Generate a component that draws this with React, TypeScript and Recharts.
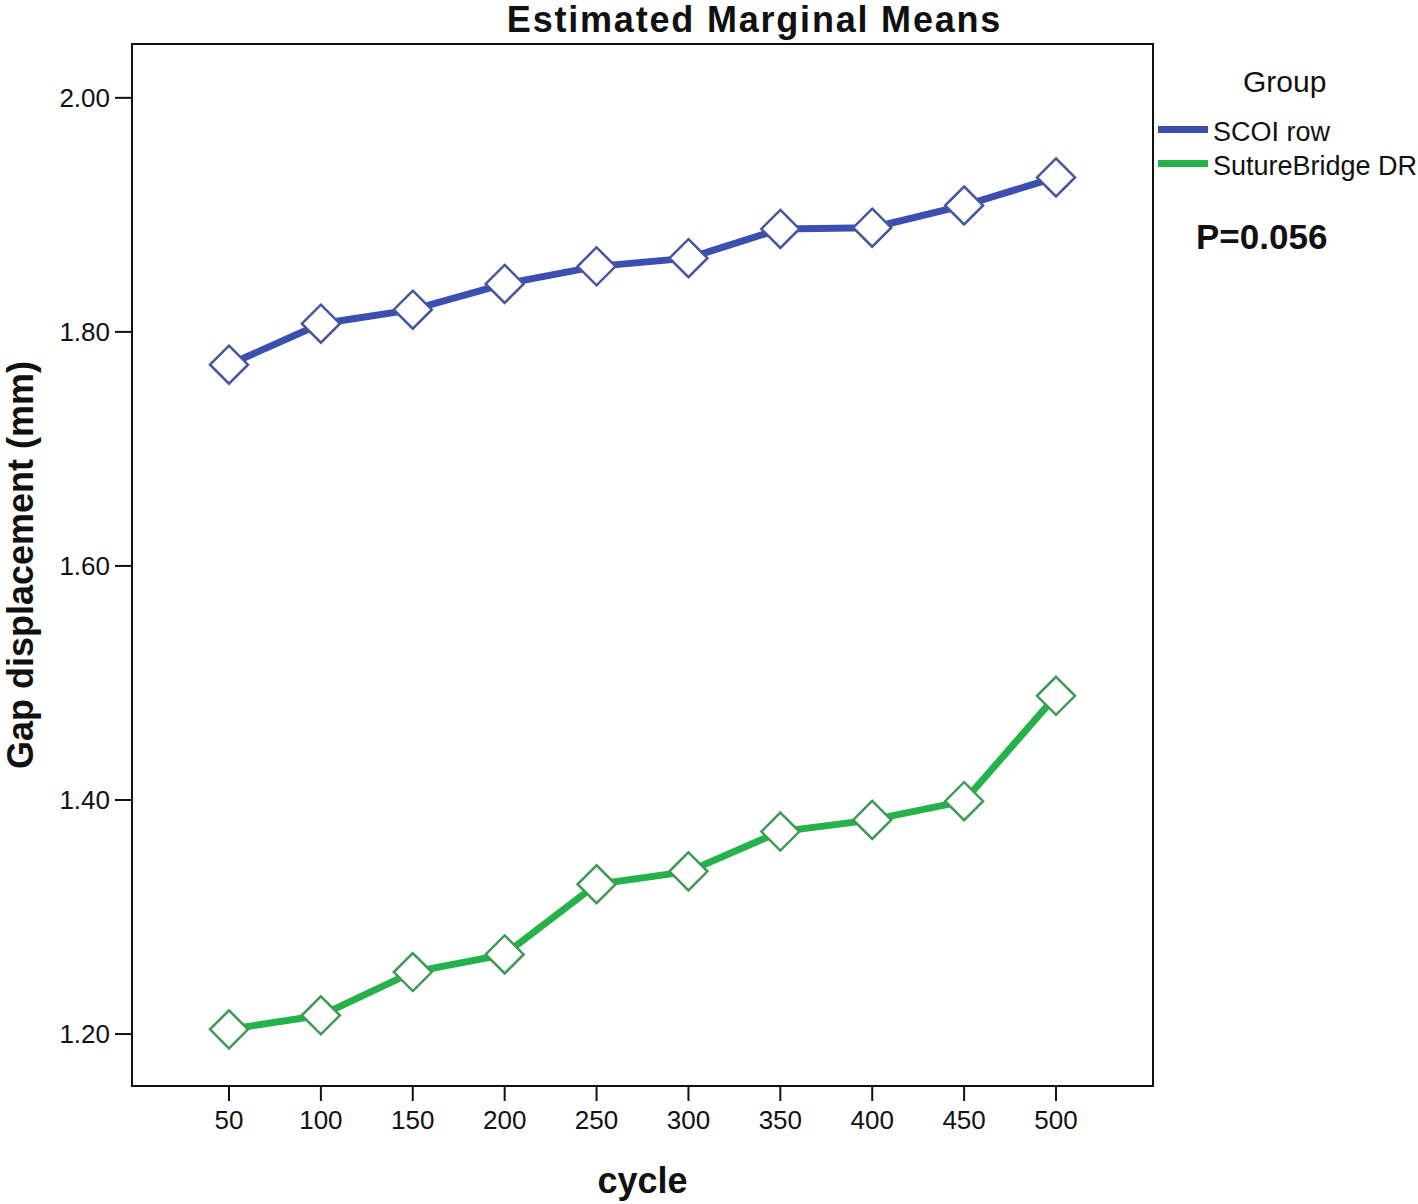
import React from 'react';
import { LineChart, Line, XAxis, YAxis, ReferenceArea } from 'recharts';

const cycles = [50, 100, 150, 200, 250, 300, 350, 400, 450, 500];
const scoiRow = [1.772, 1.807, 1.819, 1.841, 1.856, 1.863, 1.888, 1.889, 1.908, 1.932];
const sutureBridge = [1.204, 1.216, 1.253, 1.268, 1.328, 1.339, 1.373, 1.383, 1.399, 1.489];
const yTicks = [1.2, 1.4, 1.6, 1.8, 2.0];
const seriesNames = ['SCOI row', 'SutureBridge DR'];

const data = cycles.map((c, i) => ({ cycle: c, scoi: scoiRow[i], sb: sutureBridge[i] }));

const FONT = 'Arial, "Liberation Sans", sans-serif';
const BLUE = '#3b4fb0';
const GREEN = '#25b24a';
const X_DOMAIN: [number, number] = [-2.78, 552.78];
const Y_DOMAIN: [number, number] = [1.1556, 2.046];

const makeDiamond = (stroke: string) => (props: any) => {
  const { cx, cy, index } = props;
  if (cx == null || cy == null) return <g key={`d-${index}`} />;
  const r = 19;
  return (
    <path
      key={`d-${index}`}
      d={`M${cx},${cy - r} L${cx + r},${cy} L${cx},${cy + r} L${cx - r},${cy} Z`}
      fill="#ffffff"
      stroke={stroke}
      strokeWidth={2.5}
    />
  );
};

const abs = (left: number, top: number, fs: number, bold = false): React.CSSProperties => ({
  position: 'absolute', left, top, fontSize: fs, lineHeight: `${fs}px`, fontFamily: FONT,
  fontWeight: bold ? 'bold' : 'normal', color: '#111', whiteSpace: 'nowrap',
});

export default function App() {
  const colors = [BLUE, GREEN];
  return (
    <div style={{ position: 'absolute', left: 0, top: 0, width: 1418, height: 1204, background: '#fff', overflow: 'hidden' }}>
      <LineChart
        width={1418}
        height={1204}
        data={data}
        margin={{ top: 44, right: 265, bottom: 0, left: 0 }}
        style={{ fontFamily: FONT }}
      >
        <XAxis
          dataKey="cycle"
          type="number"
          domain={X_DOMAIN}
          ticks={cycles}
          height={118}
          tickSize={15}
          tickMargin={10}
          axisLine={{ stroke: '#111', strokeWidth: 2 }}
          tickLine={{ stroke: '#111', strokeWidth: 2 }}
          tick={{ fill: '#111', fontSize: 26, fontFamily: FONT }}
        />
        <YAxis
          type="number"
          domain={Y_DOMAIN}
          ticks={yTicks}
          width={132}
          tickSize={17}
          tickMargin={5}
          allowDataOverflow
          tickFormatter={(v: number) => v.toFixed(2)}
          axisLine={{ stroke: '#111', strokeWidth: 2 }}
          tickLine={{ stroke: '#111', strokeWidth: 2 }}
          tick={{ fill: '#111', fontSize: 26, fontFamily: FONT }}
          label={{ value: 'Gap displacement (mm)', angle: -90, position: 'insideLeft', offset: 20, style: { fontSize: 36, fontWeight: 'bold', fill: '#111', fontFamily: FONT, textAnchor: 'middle' } }}
        />
        <ReferenceArea
          x1={X_DOMAIN[0]}
          x2={X_DOMAIN[1]}
          y1={Y_DOMAIN[0]}
          y2={Y_DOMAIN[1]}
          fill="none"
          fillOpacity={0}
          stroke="#111"
          strokeWidth={2}
          ifOverflow="extendDomain"
        />
        <Line
          dataKey="scoi"
          name={seriesNames[0]}
          stroke={BLUE}
          strokeWidth={7}
          dot={makeDiamond('#45569f')}
          activeDot={false}
          isAnimationActive={false}
        />
        <Line
          dataKey="sb"
          name={seriesNames[1]}
          stroke={GREEN}
          strokeWidth={7}
          dot={makeDiamond('#3f9a55')}
          activeDot={false}
          isAnimationActive={false}
        />
      </LineChart>

      <div style={{ ...abs(0, 2, 36, true), width: 1509, textAlign: 'center', letterSpacing: '1.8px' }}>Estimated Marginal Means</div>
      <div style={{ ...abs(0, 1163, 36, true), width: 1285, textAlign: 'center' }}>cycle</div>

      <div style={abs(1243, 67, 30)}>Group</div>
      {seriesNames.map((n, i) => (
        <React.Fragment key={n}>
          <div style={{ position: 'absolute', left: 1158, top: 126 + i * 34, width: 50, height: 7, background: colors[i] }} />
          <div style={abs(1213, 119 + i * 34, 27)}>{n}</div>
        </React.Fragment>
      ))}
      <div style={abs(1196, 219, 35, true)}>P=0.056</div>
    </div>
  );
}
